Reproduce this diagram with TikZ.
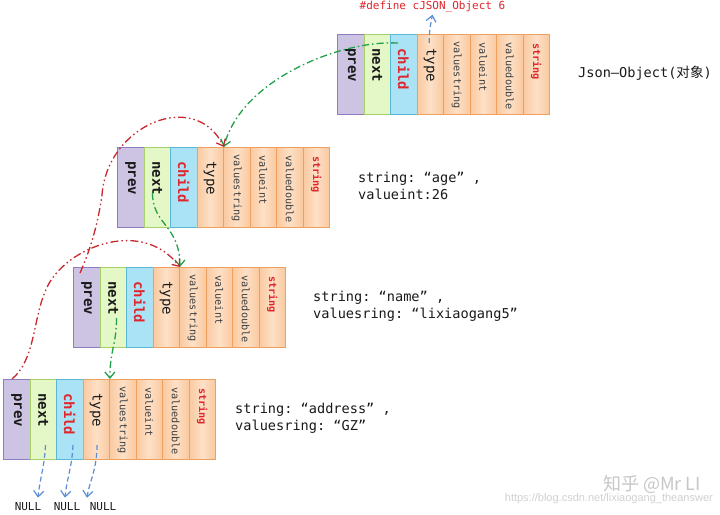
\documentclass[tikz,border=0pt]{standalone}
\usepackage{fontspec}
\setmainfont{DejaVu Sans}
\setmonofont{DejaVu Sans Mono}
\newfontfamily\cjkf{Noto Sans CJK SC}
\newfontfamily\wmf{Liberation Sans}
\usetikzlibrary{arrows.meta}
\definecolor{pfill}{HTML}{CDC3E2}
\definecolor{pdraw}{HTML}{8E7CC3}
\definecolor{nfill}{HTML}{E4F7C6}
\definecolor{ndraw}{HTML}{A9CF6A}
\definecolor{cfill}{HTML}{A9E3F5}
\definecolor{cdraw}{HTML}{5BB8D4}
\definecolor{ofill}{HTML}{FAC9A0}
\definecolor{olite}{HTML}{FDE0C6}
\definecolor{odraw}{HTML}{F0A05E}
\definecolor{cred}{HTML}{E0262C}
\definecolor{lred}{HTML}{C8282E}
\definecolor{lgreen}{HTML}{22A04A}
\definecolor{lblue}{HTML}{5B8ED2}
\definecolor{txt}{HTML}{1A1A1A}
\tikzset{
  cellbox/.style={rectangle,anchor=north west,minimum width=26.5pt,minimum height=80pt,inner sep=0pt,line width=0.9pt},
  pcell/.style={fill=pfill,draw=pdraw},
  ncell/.style={fill=nfill,draw=ndraw},
  ccell/.style={fill=cfill,draw=cdraw},
  ocell/.style={left color=ofill,right color=ofill,middle color=olite,draw=odraw},
  bigtxt/.style={rotate=-90,anchor=west,inner sep=0pt,text=txt,font=\ttfamily\bfseries\fontsize{14}{14}\selectfont},
  typetxt/.style={rotate=-90,anchor=west,inner sep=0pt,text=txt,font=\ttfamily\fontsize{14}{14}\selectfont},
  smalltxt/.style={rotate=-90,anchor=west,inner sep=0pt,text=txt!85,font=\ttfamily\fontsize{10.2}{10.2}\selectfont},
  strtxt/.style={rotate=-90,anchor=west,inner sep=0pt,text=cred,font=\ttfamily\bfseries\fontsize{10.2}{10.2}\selectfont},
  infotxt/.style={anchor=west,inner sep=0pt,align=left,text=txt,font=\ttfamily\fontsize{13.6}{17}\selectfont},
  nulltxt/.style={inner sep=0pt,text=txt,font=\ttfamily\fontsize{11}{11}\selectfont},
  greenarr/.style={draw=lgreen,line width=1.3pt,dash pattern=on 7pt off 3pt on 1.5pt off 3pt,-{Straight Barb[length=6pt,width=10pt,line width=1.3pt]}},
  redarr/.style={draw=lred,line width=1.3pt,dash pattern=on 8pt off 3pt on 1.5pt off 3pt on 1.5pt off 3pt,-{Straight Barb[length=6pt,width=10pt,line width=1.3pt]}},
  bluearr/.style={draw=lblue,line width=1.2pt,dash pattern=on 5pt off 3pt,-{Straight Barb[length=6pt,width=10pt,line width=1.2pt]}},
}
\newcommand\jrec[3]{%
 \node[cellbox,pcell] (#1prev) at (#2,#3) {};
 \node[cellbox,ncell] (#1next) at (#2+26.5,#3) {};
 \node[cellbox,ccell] (#1child) at (#2+53,#3) {};
 \node[cellbox,ocell] (#1type) at (#2+79.5,#3) {};
 \node[cellbox,ocell] (#1vs) at (#2+106,#3) {};
 \node[cellbox,ocell] (#1vi) at (#2+132.5,#3) {};
 \node[cellbox,ocell] (#1vd) at (#2+159,#3) {};
 \node[cellbox,ocell] (#1str) at (#2+185.5,#3) {};
 \node[bigtxt] at ([yshift=-14pt]#1prev.north) {prev};
 \node[bigtxt] at ([yshift=-14pt]#1next.north) {next};
 \node[bigtxt,text=cred] at ([yshift=-14pt]#1child.north) {child};
 \node[typetxt] at ([yshift=-14pt]#1type.north) {type};
 \node[smalltxt] at ([yshift=-7pt]#1vs.north) {valuestring};
 \node[smalltxt] at ([yshift=-8pt]#1vi.north) {valueint};
 \node[smalltxt] at ([yshift=-8pt]#1vd.north) {valuedouble};
 \node[strtxt] at ([yshift=-9pt]#1str.north) {string};
}
\begin{document}
\begin{tikzpicture}[x=1pt,y=-1pt]
\useasboundingbox (0,0) rectangle (720,514);
\fill[white] (0,0) rectangle (720,514);
% watermark
\node[anchor=east,inner sep=0pt,text=black!18,font=\wmf\fontsize{11}{11}\selectfont] (wm2) at (713,499) {https://blog.csdn.net/lixiaogang\_theanswer};
\node[anchor=east,inner sep=0pt,text=black!22,font=\cjkf\fontsize{18}{18}\selectfont] (wm1) at (701,484) {知乎 @Mr LI};
% records
\jrec{ra}{337}{34}
\jrec{rb}{117}{147}
\jrec{rc}{73}{267}
\jrec{rd}{3}{379}
% texts
\node[inner sep=2pt,text=cred,font=\ttfamily\fontsize{11}{11}\selectfont] (def) at (432.5,7) {\#define cJSON\_Object 6};
\node[infotxt] (lab1) at (578,73) {Json—Object({\cjkf 对象})};
\node[infotxt] (lab2) at (358,185.5) {string: “age” ,\\valueint:26};
\node[infotxt] (lab3) at (313,306.5) {string: “name” ,\\valuesring: “lixiaogang5”};
\node[infotxt] (lab4) at (235,418.5) {string: “address” ,\\valuesring: “GZ”};
\node[nulltxt] (n1) at (28,507) {NULL};
\node[nulltxt] (n2) at (67,507) {NULL};
\node[nulltxt] (n3) at (103,507) {NULL};
% connectors
\draw[bluearr] ([xshift=-1pt,yshift=-9pt]ratype.north) .. controls +(0,-12) and +(-2,10) .. (def.south);
\draw[greenarr] ([xshift=8pt,yshift=-9pt]rachild.north west) .. controls +(-58,-3) and +(17,-67) .. (rbtype.north east);
\draw[redarr] ([xshift=7pt,yshift=-6pt]rcprev.north west) .. controls (88,255) and (97,230) .. (102,195) .. controls (107,125) and (195,88) .. (rbtype.north east);
\draw[greenarr] ([xshift=9pt,yshift=-46pt]rbnext.north west) .. controls +(0,32) and +(0,-42) .. (rctype.north east);
\draw[redarr] ([xshift=9pt]rdprev.north west) .. controls (35,360) and (33,320) .. (45,292) .. controls (60,250) and (140,215) .. (rctype.north east);
\draw[greenarr] ([xshift=17pt,yshift=-51pt]rcnext.north west) .. controls +(0,27) and +(0,-29) .. (rdtype.north east);
\draw[bluearr] ([xshift=16pt,yshift=-66pt]rdnext.north west) .. controls +(-1,22) and +(2,-20) .. ([xshift=10pt,yshift=5pt]n1.north);
\draw[bluearr] ([xshift=17pt,yshift=-66pt]rdchild.north west) .. controls +(-1,22) and +(2,-20) .. ([xshift=-2pt,yshift=5pt]n2.north);
\draw[bluearr] ([xshift=14.5pt,yshift=-66pt]rdtype.north west) .. controls +(0,25) and +(2,-15) .. ([xshift=-16pt,yshift=5pt]n3.north);
\end{tikzpicture}
\end{document}
